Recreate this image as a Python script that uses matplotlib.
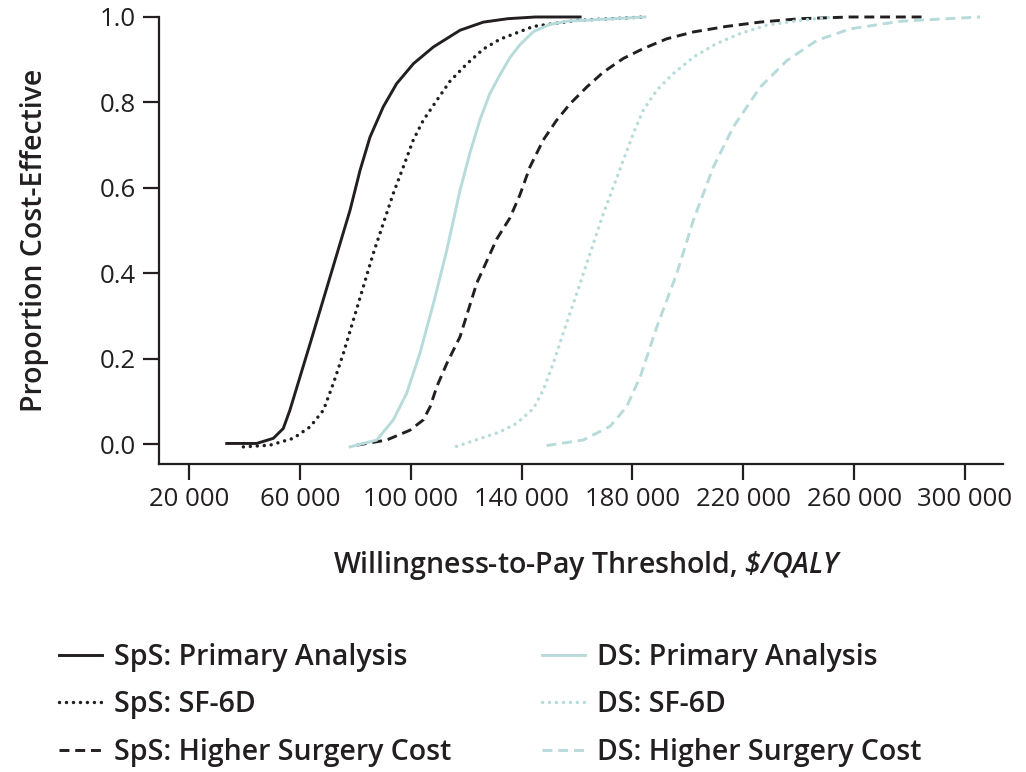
import matplotlib
matplotlib.use('Agg')
import matplotlib.pyplot as plt

# Cost-effectiveness acceptability curves
sps_primary_x = [33600, 44400, 50400, 54000, 56400, 60050, 63700, 67300, 70900,
                 74500, 78100, 81700, 85300, 90100, 94900, 101000, 108200,
                 117800, 126200, 135000, 145000, 161100]
sps_primary_y = [0.002, 0.002, 0.014, 0.037, 0.08, 0.158, 0.236, 0.314, 0.392,
                 0.47, 0.548, 0.641, 0.719, 0.79, 0.844, 0.891, 0.93,
                 0.969, 0.988, 0.996, 1.0, 1.0]

sps_sf6d_x = [39600, 49200, 57600, 63700, 68500, 72100, 75700, 79300, 82900,
              86500, 90100, 93700, 97300, 100900, 104500, 109400, 114200,
              120200, 126200, 132200, 144300, 160000, 184500]
sps_sf6d_y = [-0.006, -0.002, 0.014, 0.041, 0.08, 0.143, 0.213, 0.291, 0.369,
              0.447, 0.517, 0.587, 0.649, 0.712, 0.758, 0.805, 0.85,
              0.89, 0.925, 0.948, 0.978, 0.992, 1.0]

sps_cost_x = [80500, 91300, 99700, 104500, 107000, 109400, 113000, 117800,
              123800, 131000, 135800, 139400, 143000, 147800, 152600, 157500,
              163500, 169500, 176700, 183900, 192400, 202000, 214000, 226000,
              240500, 258500, 286100]
sps_cost_y = [-0.002, 0.01, 0.033, 0.057, 0.088, 0.135, 0.189, 0.252,
              0.377, 0.48, 0.53, 0.584, 0.649, 0.712, 0.758, 0.797,
              0.836, 0.871, 0.903, 0.926, 0.949, 0.965, 0.978, 0.988,
              0.996, 1.0, 1.0]

ds_primary_x = [78100, 87700, 93700, 98500, 103300, 108200, 113000, 117800,
                121500, 125000, 128500, 132200, 135800, 139400, 144300,
                150000, 156300, 184500]
ds_primary_y = [-0.006, 0.01, 0.057, 0.119, 0.213, 0.33, 0.454, 0.595,
                0.685, 0.76, 0.82, 0.865, 0.905, 0.935, 0.966, 0.982,
                0.99, 1.0]

ds_sf6d_x = [116500, 132200, 138200, 144300, 147800, 151400, 155000, 158700,
             162300, 165900, 169500, 173100, 176700, 180300, 183900, 188800,
             194800, 202000, 210400, 218800, 228500, 240500, 252500]
ds_sf6d_y = [-0.005, 0.029, 0.049, 0.084, 0.127, 0.189, 0.26, 0.33,
             0.4, 0.47, 0.54, 0.602, 0.665, 0.727, 0.782, 0.829,
             0.868, 0.906, 0.938, 0.961, 0.981, 0.992, 1.0]

ds_cost_x = [149000, 162200, 171900, 177900, 182800, 188800, 196000, 202000,
             209200, 216400, 226100, 235700, 246500, 258500, 276600, 305400]
ds_cost_y = [-0.003, 0.01, 0.042, 0.088, 0.158, 0.275, 0.4, 0.525,
             0.649, 0.743, 0.836, 0.898, 0.945, 0.972, 0.99, 1.0]

x_ticks = [20000, 60000, 100000, 140000, 180000, 220000, 260000, 300000]
x_tick_labels = ['20 000', '60 000', '100 000', '140 000', '180 000',
                 '220 000', '260 000', '300 000']
y_ticks = [0.0, 0.2, 0.4, 0.6, 0.8, 1.0]

BLACK = '#231f20'
TEAL = '#b7dbdb'
DOT = (0, (0.01, 2.0))
DASH = (0, (3.4, 2.0))

plt.rcParams['font.family'] = ['Open Sans', 'DejaVu Sans']
plt.rcParams['mathtext.fontset'] = 'custom'
plt.rcParams['mathtext.rm'] = 'Open Sans:italic:semibold'
plt.rcParams['mathtext.it'] = 'Open Sans:italic:semibold'

fig = plt.figure(figsize=(10.26, 7.72), dpi=100)
ax = fig.add_axes([0.155, 0.399, 0.8226, 0.579])

series = [
    (sps_primary_x, sps_primary_y, BLACK, '-', 'SpS: Primary Analysis'),
    (sps_sf6d_x, sps_sf6d_y, BLACK, DOT, 'SpS: SF-6D'),
    (sps_cost_x, sps_cost_y, BLACK, DASH, 'SpS: Higher Surgery Cost'),
    (ds_primary_x, ds_primary_y, TEAL, '-', 'DS: Primary Analysis'),
    (ds_sf6d_x, ds_sf6d_y, TEAL, DOT, 'DS: SF-6D'),
    (ds_cost_x, ds_cost_y, TEAL, DASH, 'DS: Higher Surgery Cost'),
]
for xs, ys, col, ls, lab in series:
    cap = 'round' if ls is DOT else 'butt'
    lw = 2.5 if ls is DOT else 2.1
    ax.plot(xs, ys, color=col, lw=lw, linestyle=ls, clip_on=False,
            dash_capstyle=cap, solid_joinstyle='round', label=lab)

ax.set_xlim(9175, 313700)
ax.set_ylim(-0.046, 1.0)
ax.set_xticks(x_ticks)
ax.set_xticklabels(x_tick_labels)
ax.set_yticks(y_ticks)
ax.set_yticklabels([f'{v:.1f}' for v in y_ticks])

for side in ['top', 'right']:
    ax.spines[side].set_visible(False)
for side in ['left', 'bottom']:
    ax.spines[side].set_linewidth(1.6)
    ax.spines[side].set_color(BLACK)
ax.tick_params(axis='both', direction='out', length=11.5, width=1.6,
               colors=BLACK, labelsize=18.5, pad=5)

fig.text(35 / 1026, 1 - 240 / 772, 'Proportion Cost-Effective', rotation=90,
         ha='center', va='center', fontsize=20.5, fontweight='semibold',
         color=BLACK)
fig.text(588 / 1026, 1 - 565 / 772,
         'Willingness-to-Pay Threshold, $\\$/QALY$', ha='center',
         va='center', fontsize=20.5, fontweight='semibold', color=BLACK)

leg = fig.legend(loc='upper left', bbox_to_anchor=(0.0326, 0.2008), ncol=2,
                 frameon=False, handlelength=1.5, handletextpad=0.42,
                 columnspacing=3.2, labelspacing=0.66,
                 prop={'weight': 'semibold', 'size': 20.5})
for t in leg.get_texts():
    t.set_color(BLACK)

fig.savefig('out.png', dpi=100, facecolor='white')
